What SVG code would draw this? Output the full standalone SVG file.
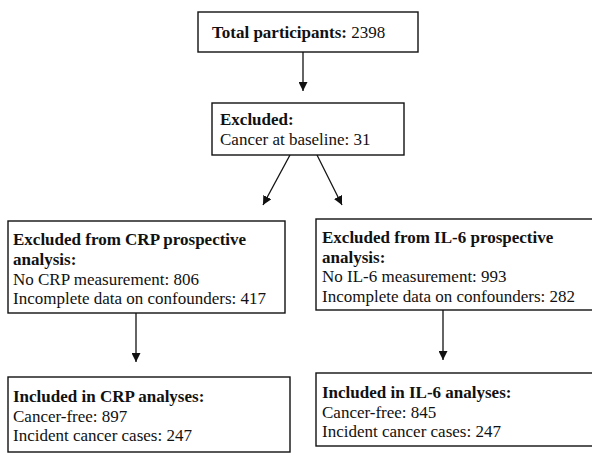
<svg xmlns="http://www.w3.org/2000/svg" width="592" height="453" viewBox="0 0 592 453">
<style>
.box{fill:#fff;stroke:#111;stroke-width:1.4}
text{font-family:"Liberation Serif","Times New Roman",serif;font-size:17px;fill:#111}
.b{font-weight:bold}
.c{stroke:#111;stroke-width:1.3;fill:none}
</style>
<defs>
<marker id="ah" viewBox="0 0 10 10" refX="10" refY="5" markerWidth="9" markerHeight="9" markerUnits="userSpaceOnUse" orient="auto">
<path d="M0,0 L10,5 L0,10 z" fill="#111"/>
</marker>
</defs>
<rect width="592" height="453" fill="#fff"/>
<g id="connectors">
<line class="c" x1="303" y1="52" x2="303" y2="91" marker-end="url(#ah)"/>
<line class="c" x1="290" y1="155" x2="263" y2="205" marker-end="url(#ah)"/>
<line class="c" x1="317" y1="155" x2="342" y2="205" marker-end="url(#ah)"/>
<line class="c" x1="136" y1="313" x2="136" y2="362" marker-end="url(#ah)"/>
<line class="c" x1="443" y1="310" x2="443" y2="360" marker-end="url(#ah)"/>
</g>
<g id="total">
<rect class="box" x="198" y="12" width="220" height="40"/>
<text x="212" y="38"><tspan class="b">Total participants:</tspan> 2398</text>
</g>
<g id="excluded">
<rect class="box" x="212" y="103" width="192" height="52"/>
<text class="b" x="220" y="125">Excluded:</text>
<text x="220" y="145">Cancer at baseline: 31</text>
</g>
<g id="excl-crp">
<rect class="box" x="8" y="221" width="277" height="92"/>
<text class="b" x="13" y="245">Excluded from CRP prospective</text>
<text class="b" x="13" y="265">analysis:</text>
<text x="13" y="284.5">No CRP measurement: 806</text>
<text x="13" y="304">Incomplete data on confounders: 417</text>
</g>
<g id="excl-il6">
<rect class="box" x="316" y="219" width="280" height="91"/>
<text class="b" x="322" y="243">Excluded from IL-6 prospective</text>
<text class="b" x="322" y="263">analysis:</text>
<text x="322" y="282">No IL-6 measurement: 993</text>
<text x="322" y="301.5">Incomplete data on confounders: 282</text>
</g>
<g id="incl-crp">
<rect class="box" x="8" y="377" width="282" height="75"/>
<text class="b" x="13" y="402">Included in CRP analyses:</text>
<text x="13" y="421.5">Cancer-free: 897</text>
<text x="13" y="441">Incident cancer cases: 247</text>
</g>
<g id="incl-il6">
<rect class="box" x="316" y="373" width="280" height="73"/>
<text class="b" x="322" y="398">Included in IL-6 analyses:</text>
<text x="322" y="417.5">Cancer-free: 845</text>
<text x="322" y="437">Incident cancer cases: 247</text>
</g>
</svg>
